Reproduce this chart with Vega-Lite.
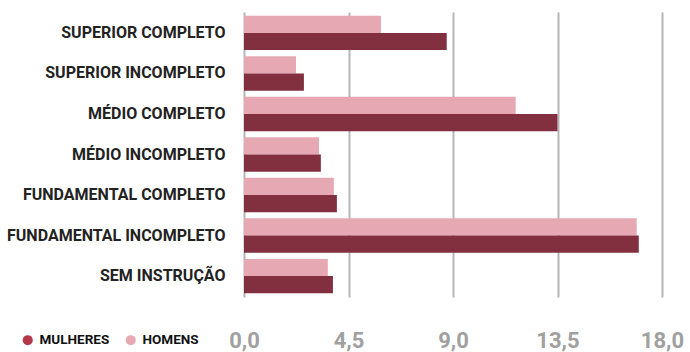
{
  "$schema": "https://vega.github.io/schema/vega-lite/v6.json",
  "width": 418,
  "height": 285,
  "autosize": {"type": "none"},
  "padding": {"left": 244, "top": 12, "right": 28, "bottom": 55},
  "background": "#ffffff",
  "data": {
    "values": [
      {"cat": "SUPERIOR COMPLETO", "sexo": "HOMENS", "v": 5.9},
      {"cat": "SUPERIOR COMPLETO", "sexo": "MULHERES", "v": 8.73},
      {"cat": "SUPERIOR INCOMPLETO", "sexo": "HOMENS", "v": 2.24},
      {"cat": "SUPERIOR INCOMPLETO", "sexo": "MULHERES", "v": 2.58},
      {"cat": "MÉDIO COMPLETO", "sexo": "HOMENS", "v": 11.7},
      {"cat": "MÉDIO COMPLETO", "sexo": "MULHERES", "v": 13.5},
      {"cat": "MÉDIO INCOMPLETO", "sexo": "HOMENS", "v": 3.23},
      {"cat": "MÉDIO INCOMPLETO", "sexo": "MULHERES", "v": 3.31},
      {"cat": "FUNDAMENTAL COMPLETO", "sexo": "HOMENS", "v": 3.87},
      {"cat": "FUNDAMENTAL COMPLETO", "sexo": "MULHERES", "v": 4.0},
      {"cat": "FUNDAMENTAL INCOMPLETO", "sexo": "HOMENS", "v": 16.91},
      {"cat": "FUNDAMENTAL INCOMPLETO", "sexo": "MULHERES", "v": 17.0},
      {"cat": "SEM INSTRUÇÃO", "sexo": "HOMENS", "v": 3.61},
      {"cat": "SEM INSTRUÇÃO", "sexo": "MULHERES", "v": 3.83}
    ]
  },
  "encoding": {
    "y": {
      "field": "cat",
      "type": "nominal",
      "sort": null,
      "scale": {"paddingInner": 0.15, "paddingOuter": 0.09},
      "axis": {
        "title": null,
        "ticks": false,
        "domain": false,
        "grid": false,
        "labelFont": "Roboto",
        "labelFontWeight": "bold",
        "labelFontSize": 16,
        "labelColor": "#222222",
        "labelPadding": 19,
        "labelLimit": 300
      }
    },
    "x": {
      "field": "v",
      "type": "quantitative",
      "scale": {"domain": [0, 18], "nice": false},
      "axis": {
        "title": null,
        "values": [0, 4.5, 9, 13.5, 18],
        "labelExpr": "replace(format(datum.value, '.1f'), '.', ',')",
        "ticks": false,
        "domain": false,
        "grid": true,
        "gridColor": "#b5b5b5",
        "gridWidth": 2,
        "labelFont": "Roboto",
        "labelFontWeight": "bold",
        "labelFontSize": 22,
        "labelColor": "#a0a0a0",
        "labelPadding": 33,
        "labelFlush": false
      }
    }
  },
  "layer": [
    {
      "mark": {"type": "bar"},
      "encoding": {
        "yOffset": {
          "field": "sexo",
          "type": "nominal",
          "sort": ["HOMENS", "MULHERES"],
          "scale": {"paddingInner": 0, "paddingOuter": 0}
        },
        "color": {
          "field": "sexo",
          "type": "nominal",
          "scale": {"domain": ["MULHERES", "HOMENS"], "range": ["#822f40", "#e6a9b4"]},
          "legend": null
        }
      }
    },
    {
      "mark": {"type": "point", "filled": true, "opacity": 0},
      "encoding": {
        "fill": {
          "field": "sexo",
          "type": "nominal",
          "scale": {"domain": ["MULHERES", "HOMENS"], "range": ["#b5364b", "#e6a9b4"]},
          "legend": {
            "title": null,
            "orient": "none",
            "direction": "horizontal",
            "legendX": -223,
            "legendY": 321,
            "symbolType": "circle",
            "symbolSize": 100,
            "symbolOpacity": 1,
            "symbolStrokeWidth": 0,
            "labelFont": "Roboto",
            "labelFontWeight": "bold",
            "labelFontSize": 13.5,
            "labelColor": "#111111",
            "labelOffset": 5,
            "columnPadding": 14
          }
        }
      }
    }
  ],
  "resolve": {"scale": {"color": "independent", "fill": "independent"}},
  "config": {"view": {"stroke": null}}
}
